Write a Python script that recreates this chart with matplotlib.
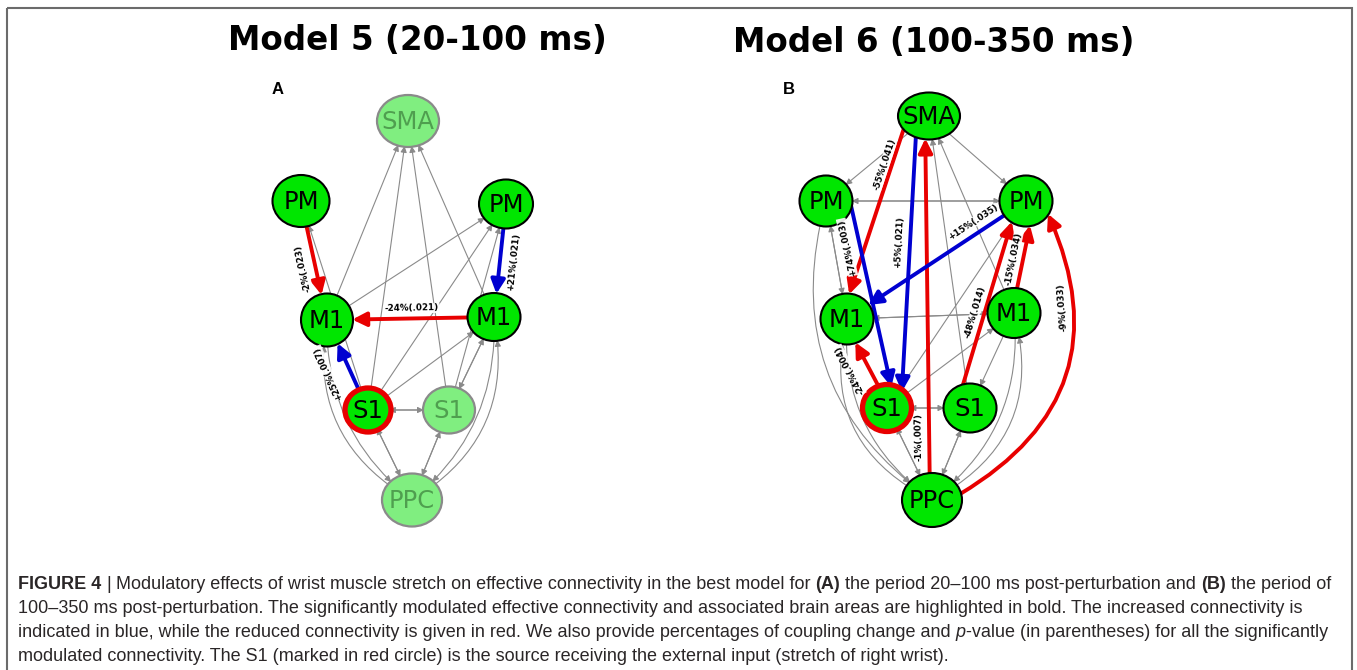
import numpy as np
import matplotlib
matplotlib.use("Agg")
import matplotlib.pyplot as plt
from matplotlib import font_manager
from matplotlib.patches import Ellipse, FancyArrowPatch, Rectangle

W, H = 1357, 670
GREEN = "#00e600"
RED = "#e80000"
BLUE = "#0000d0"
GRAY = "#8a8a8a"

node_names = {"SMA": "SMA", "PML": "PM", "PMR": "PM", "M1L": "M1",
              "M1R": "M1", "S1L": "S1", "S1R": "S1", "PPC": "PPC"}

titles = ["Model 5 (20-100 ms)", "Model 6 (100-350 ms)"]
tags = ["A", "B"]

# ---- model 5 (A)
a_faded = ["SMA", "S1R", "PPC"]
a_gray = [("M1L", "SMA"), ("S1L", "SMA"), ("S1R", "SMA"), ("M1R", "SMA"),
          ("S1L", "PML"), ("M1L", "PMR"), ("S1L", "PMR"), ("S1R", "PMR"),
          ("S1L", "M1R"), ("M1R", "S1R"), ("S1R", "M1R"),
          ("S1L", "S1R"), ("S1R", "S1L"), ("S1L", "PPC"), ("PPC", "S1L"),
          ("S1R", "PPC"), ("PPC", "S1R"),
          ("M1L", "PPC"), ("PPC", "M1L"), ("M1R", "PPC"), ("PPC", "M1R")]
a_src = ["PML", "PMR", "M1R", "S1L"]
a_dst = ["M1L", "M1R", "M1L", "M1L"]
a_change = [-2, 21, -24, 25]
a_pval = [".023", ".021", ".021", ".007"]

# ---- model 6 (B)
b_faded = []
b_gray = [("SMA", "PML"), ("SMA", "PMR"), ("PMR", "PML"), ("PML", "PMR"),
          ("PML", "M1L"), ("M1L", "PML"), ("M1L", "M1R"), ("M1R", "M1L"),
          ("M1R", "SMA"), ("S1R", "SMA"), ("PMR", "S1L"), ("S1L", "M1R"),
          ("M1R", "S1R"), ("S1L", "S1R"), ("S1R", "S1L"),
          ("S1L", "PPC"), ("PPC", "S1L"), ("S1R", "PPC"), ("PPC", "S1R"),
          ("PML", "PPC"), ("M1L", "PPC"), ("PPC", "M1L"), ("M1R", "PPC"), ("PPC", "M1R")]
b_src = ["SMA", "PML", "SMA", "PPC", "PMR", "S1R", "M1R", "S1L", "PPC"]
b_dst = ["M1L", "S1L", "S1L", "SMA", "M1L", "PMR", "PMR", "M1L", "PMR"]
b_change = [-55, 74, 5, -1, 15, -48, -15, -24, -9]
b_pval = [".041", ".003", ".021", ".007", ".035", ".014", ".034", ".004", ".033"]

caption = [
    [("FIGURE 4", "b"), (" |", "r"), (" Modulatory effects of wrist muscle stretch on effective connectivity in the best model for", "r"),
     (" (A)", "b"), (" the period 20\u2013100 ms post-perturbation and", "r"), (" (B)", "b"), (" the period of", "r")],
    [("100\u2013350 ms post-perturbation. The significantly modulated effective connectivity and associated brain areas are highlighted in bold. The increased connectivity is", "r")],
    [("indicated in blue, while the reduced connectivity is given in red. We also provide percentages of coupling change and", "r"),
     (" p", "i"), ("-value (in parentheses) for all the significantly", "r")],
    [("modulated connectivity. The S1 (marked in red circle) is the source receiving the external input (stretch of right wrist).", "r")],
]

# ---- layout (pixels, y down)
pos_a = {"SMA": (408, 121), "PML": (301, 201), "PMR": (506, 204), "M1L": (327, 320),
         "M1R": (494, 317), "S1L": (368, 410), "S1R": (449, 410), "PPC": (412, 500)}
size_a = {"SMA": (62, 52), "PML": (57, 52), "PMR": (54, 49), "M1L": (52, 53),
          "M1R": (53, 48), "S1L": (46, 44), "S1R": (52, 47), "PPC": (60, 53)}
pos_b = {"SMA": (929, 116), "PML": (826, 201), "PMR": (1026, 201), "M1L": (847, 319),
         "M1R": (1014, 313), "S1L": (887, 408), "S1R": (970, 408), "PPC": (932, 500)}
size_b = {"SMA": (62, 47), "PML": (53, 51), "PMR": (53, 51), "M1L": (53, 51),
          "M1R": (53, 50), "S1L": (49, 47), "S1R": (53, 49), "PPC": (60, 54)}
rad_a = {("M1L", "PPC"): 0.25, ("PPC", "M1L"): -0.35, ("M1R", "PPC"): -0.25, ("PPC", "M1R"): 0.35}
rad_b = {("PML", "PPC"): 0.35, ("M1L", "PPC"): 0.28, ("PPC", "M1L"): -0.4,
         ("M1R", "PPC"): -0.28, ("PPC", "M1R"): 0.4}
# per modulated edge: port offset at source, port offset at target, arc rad, label t, label offset
mod_a = [((0, 0), (0, 0), 0, 0.54, 12), ((0, 0), (0, 0), 0, 0.50, -14),
         ((0, 0), (0, 0), 0, 0.49, 10), ((0, 0), (0, 0), 0, 0.51, 21)]
mod_b = [((-21, 0), (-6, 0), 0, 0.25, 7), ((24, 0), (9, 0), 0, 0.21, 13),
         ((-12, 0), (14, 0), 0, 0.435, 11), ((-2, 0), (-4, 0), 0, 0.164, 10),
         ((0, 0), (0, 0), 0, 0.26, 11), ((-14, 0), (-8, 0), 0, 0.45, 9),
         ((-2, 0), (9, 0), 0, 0.47, 9.5), ((3, 0), (-4, 0), 0, 0.52, 18),
         ((14, 2), (18, 4), 0.47, 0.72, 11)]
title_xy = [(417, 40), (934, 42)]
tag_xy = [(278, 89), (789, 89)]

fig = plt.figure(figsize=(W / 100, H / 100), dpi=100)
ax = fig.add_axes([0, 0, 1, 1])
ax.set_xlim(0, W)
ax.set_ylim(H, 0)
ax.axis("off")


def bezier(p0, p1, rad, t):
	p0, p1 = np.array(p0, float), np.array(p1, float)
	d = p1 - p0
	c = (p0 + p1) / 2 + rad * np.array([-d[1], d[0]])
	pt = (1 - t) ** 2 * p0 + 2 * (1 - t) * t * c + t ** 2 * p1
	tan = 2 * (1 - t) * (c - p0) + 2 * t * (p1 - c)
	return pt, tan


def draw_panel(pos, size, faded, gray, rads, src, dst, change, pval, mods):
	patches = {}
	for k, (x, y) in pos.items():
		w, h = size[k]
		if k in faded:
			e = Ellipse((x, y), w, h, fc="#80ee80", ec="#8a8a8a", lw=1.6, zorder=3)
			tc = "#4f9f4f"
		elif k == "S1L":
			e = Ellipse((x, y), w, h, fc=GREEN, ec=RED, lw=3.8, zorder=3)
			tc = "black"
		else:
			e = Ellipse((x, y), w, h, fc=GREEN, ec="black", lw=1.5, zorder=3)
			tc = "black"
		ax.add_patch(e)
		patches[k] = e
		ax.text(x, y + 1, node_names[k], ha="center", va="center", fontsize=17.5, color=tc, zorder=4)

	for s, d in gray:
		rad = rads.get((s, d), 0)
		ax.add_patch(FancyArrowPatch(pos[s], pos[d], patchA=patches[s], patchB=patches[d],
		                             arrowstyle="-|>", mutation_scale=9, lw=0.8, color=GRAY,
		                             connectionstyle=f"arc3,rad={rad}", shrinkA=0, shrinkB=0, zorder=1))

	for s, d, ch, p, (oa, ob, rad, t, off) in zip(src, dst, change, pval, mods):
		pa = (pos[s][0] + oa[0], pos[s][1] + oa[1])
		pb = (pos[d][0] + ob[0], pos[d][1] + ob[1])
		col = BLUE if ch > 0 else RED
		ax.add_patch(FancyArrowPatch(pa, pb, patchA=patches[s], patchB=patches[d],
		                             arrowstyle="-|>", mutation_scale=21, lw=2.8, color=col,
		                             connectionstyle=f"arc3,rad={rad}", shrinkA=0, shrinkB=0, zorder=2))
		pt, tan = bezier(pa, pb, rad, t)
		ang = np.degrees(np.arctan2(-tan[1], tan[0])) % 180
		th = np.radians(ang)
		lx = pt[0] - off * np.sin(th)
		ly = pt[1] - off * np.cos(th)
		ax.text(lx, ly, f"{ch:+d}%({p})", rotation=ang, rotation_mode="anchor",
		        ha="center", va="center", fontsize=6.3, fontweight="bold", zorder=5,
		        bbox=dict(fc="white", ec="none", pad=0.3, alpha=0.9))


draw_panel(pos_a, size_a, a_faded, a_gray, rad_a, a_src, a_dst, a_change, a_pval, mod_a)
draw_panel(pos_b, size_b, b_faded, b_gray, rad_b, b_src, b_dst, b_change, b_pval, mod_b)

for (x, y), t in zip(title_xy, titles):
	ax.text(x, y, t, ha="center", va="center", fontsize=23.5, fontweight="bold")
for (x, y), t in zip(tag_xy, tags):
	ax.text(x, y, t, ha="center", va="center", fontsize=12, fontweight="bold",
	        family="Liberation Sans")

ax.add_patch(Rectangle((7, 8), 1345, 700, fill=False, ec="#6b6b6b", lw=1.5))

# caption, drawn piece by piece so bold / italic runs can sit inline
have = {f.name for f in font_manager.fontManager.ttflist}
cap_font = "Liberation Sans Narrow" if "Liberation Sans Narrow" in have else "Liberation Sans"
style_kw = {"r": {}, "b": {"fontweight": "bold"}, "i": {"fontstyle": "italic"}}
rend = fig.canvas.get_renderer()


def adv(s, st, size):
	a = fig.text(0, 0, "|" + s + "|", fontsize=size, family=cap_font, **style_kw[st])
	b = fig.text(0, 0, "||", fontsize=size, family=cap_font, **style_kw[st])
	w = a.get_window_extent(rend).width - b.get_window_extent(rend).width
	a.remove()
	b.remove()
	return w


def draw_line(x, y, segs, size):
	for s, st in segs:
		body = s.lstrip(" ")
		if len(body) < len(s):
			x += adv(s[:len(s) - len(body)], st, size)
		fig.text(x / W, 1 - y / H, body, fontsize=size, family=cap_font, color="#2a2627",
		         ha="left", va="baseline", **style_kw[st])
		x += adv(body, st, size)


w12 = sum(adv(s, st, 12) for s, st in caption[0])
cap_size = 12 * 1320 / w12
for i, segs in enumerate(caption):
	draw_line(18, 589 + 24 * i, segs, cap_size)

fig.savefig("out.png", dpi=100)
